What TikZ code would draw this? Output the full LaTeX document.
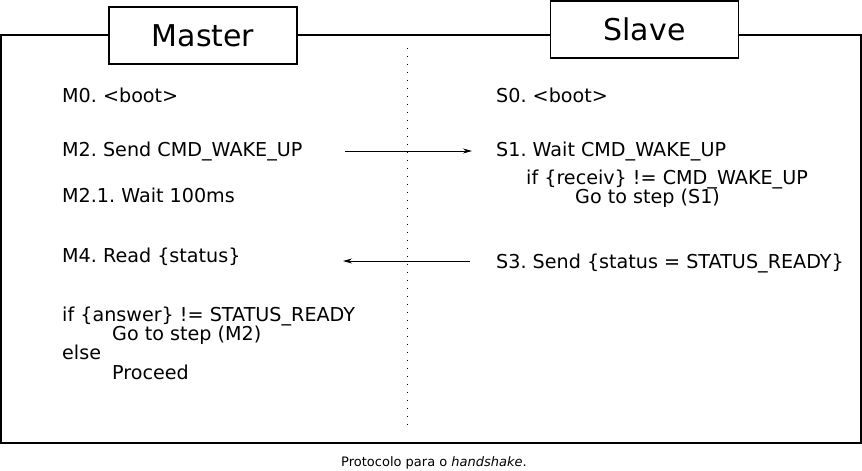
\documentclass[tikz,border=0pt]{standalone}
\usepackage{fontspec}
\setmainfont{DejaVu Sans}
\frenchspacing
\usetikzlibrary{arrows.meta}

\begin{document}
\begin{tikzpicture}[
    x=1pt, y=-1pt,
    arrow/.style={-{Stealth[length=9pt,width=5pt]}, line width=0.8pt},
    title/.style={draw, line width=1.1pt, fill=white, minimum width=188pt, minimum height=57pt, font=\fontsize{30}{35}\selectfont},
    msg/.style={anchor=base west, inner sep=0pt, font=\fontsize{19.15}{23}\selectfont},
    ]
        \useasboundingbox (0, 0) rectangle (862, 471);
        \draw[line width=1.1pt] (1, 35) rectangle (861, 443);

        \node[title] (master) at (203, 35.5) {Master};
        \node[title] (slave) at (644.5, 29.5) {Slave};

        % separator
        \coordinate (sepa) at (407, 48);
        \coordinate (sepb) at (407, 428);
        \draw[line width=0.9pt, dash pattern=on 0.9pt off 7.1pt] (sepa) -- (sepb);

        % master side
        \node[msg] (m0) at (62, 102) {M0. <boot>};
        \node[msg] (m2) at (62, 156) {M2. Send CMD\_WAKE\_UP};
        \node[msg] (m21) at (62, 202) {M2.1. Wait 100ms};
        \node[msg] (m4) at (62, 262) {M4. Read \{status\}};
        \node[msg] (mif) at (62, 321) {if \{answer\} != STATUS\_READY};
        \node[msg] (mgo) at (112, 340) {Go to step (M2)};
        \node[msg] (melse) at (62, 359) {else};
        \node[msg] (mgo2) at (112, 379) {Proceed};

        % slave side
        \node[msg] (s0) at (496, 102) {S0. <boot>};
        \node[msg] (s1) at (496, 156) {S1. Wait CMD\_WAKE\_UP};
        \node[msg] (sif) at (526, 184) {if \{receiv\} != CMD\_WAKE\_UP};
        \node[msg] (sgo) at (575, 203) {Go to step (S1)};
        \node[msg] (s3) at (496, 268) {S3. Send \{status = STATUS\_READY\}};

        % messages
        \coordinate (wakea) at (345, 151);
        \coordinate (wakeb) at (472, 151);
        \draw[arrow] (wakea) -- (wakeb);
        \coordinate (stata) at (470, 261);
        \coordinate (statb) at (343, 261);
        \draw[arrow] (stata) -- (statb);

        \node[font=\fontsize{13}{15}\selectfont] (caption) at (434, 463) {Protocolo para o \textit{handshake}.};
    \end{tikzpicture}
\end{document}
